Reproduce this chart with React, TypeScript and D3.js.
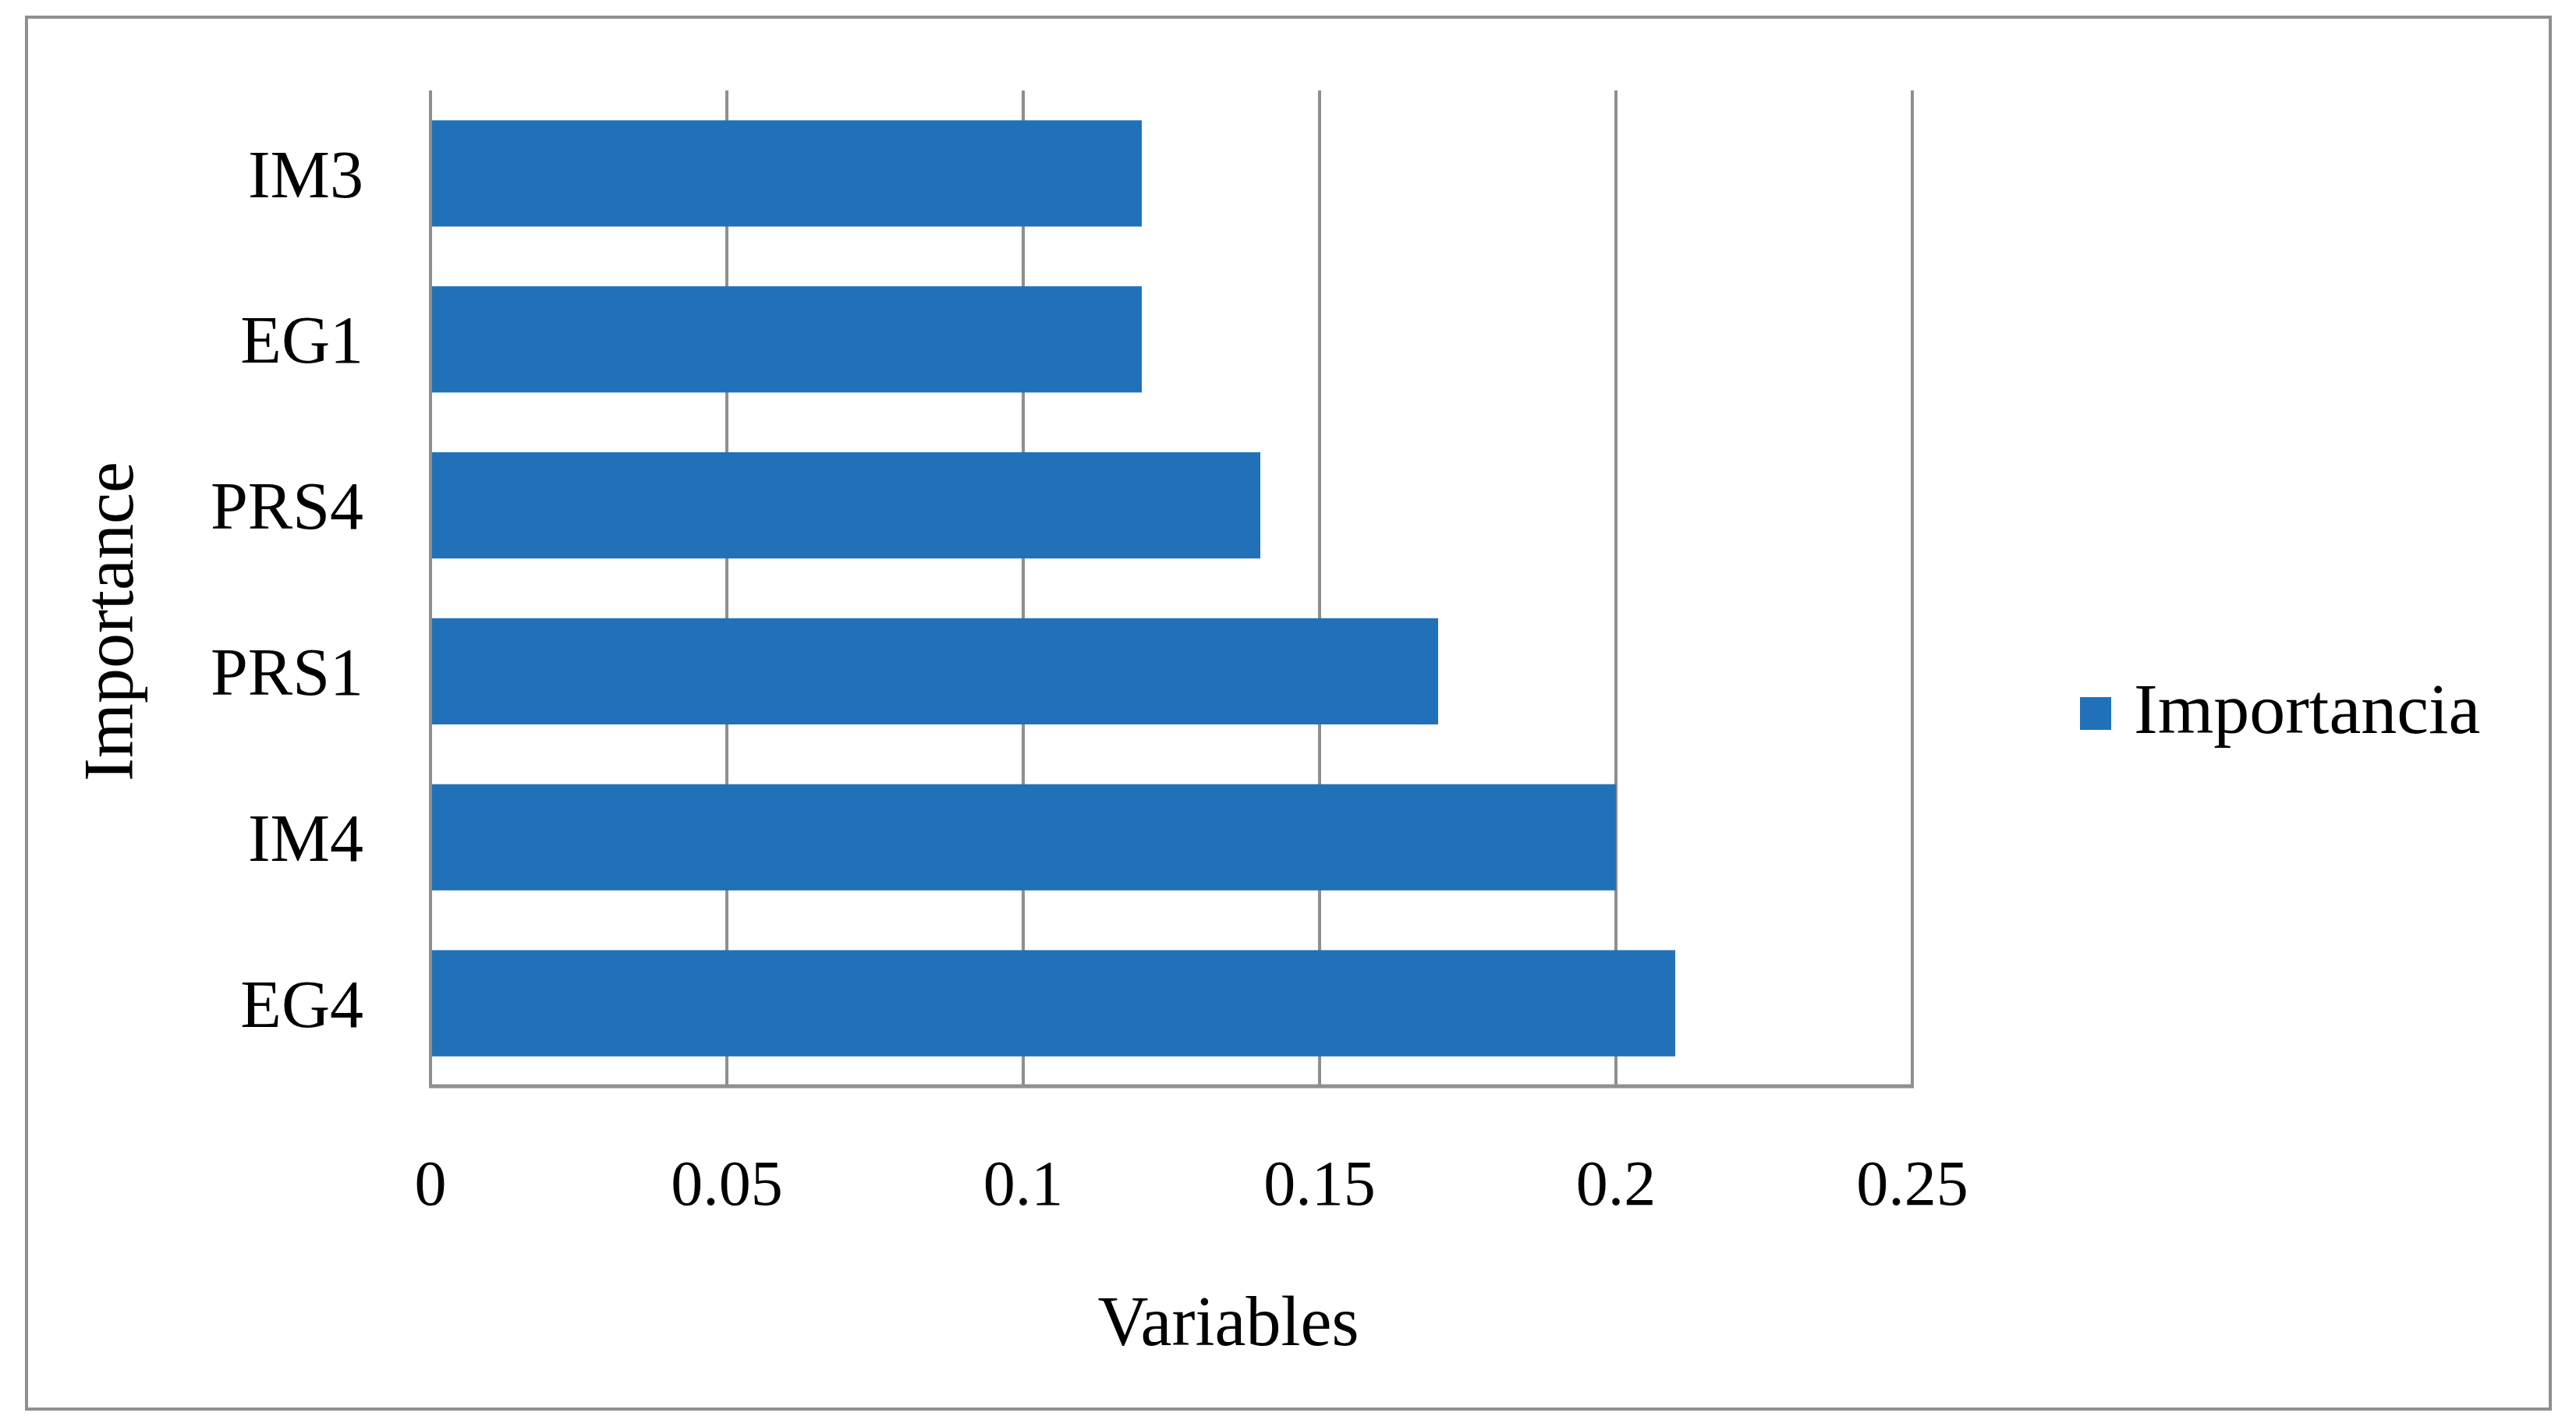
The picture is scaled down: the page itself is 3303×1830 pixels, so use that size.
// App.tsx
import React, { useRef, useEffect } from 'react';
import * as d3 from 'd3';

const categories = ['IM3', 'EG1', 'PRS4', 'PRS1', 'IM4', 'EG4'];
const importancia = [0.12, 0.12, 0.14, 0.17, 0.2, 0.21];
const xTicks = [0, 0.05, 0.1, 0.15, 0.2, 0.25];
const xTickLabels = ['0', '0.05', '0.1', '0.15', '0.2', '0.25'];
const seriesName = 'Importancia';

const WIDTH = 3303;
const HEIGHT = 1830;
const BAR_COLOR = '#2171B8';
const GRID_COLOR = '#8f8f8f';
const FONT = '"Liberation Serif", "DejaVu Serif", serif';

const App: React.FC = () => {
    const svgRef = useRef<SVGSVGElement | null>(null);

    useEffect(() => {
        if (!svgRef.current) return;
        const svg = d3.select(svgRef.current);
        svg.selectAll('*').remove();

        // outer frame
        svg.append('rect')
            .attr('x', 34).attr('y', 22)
            .attr('width', 3236).attr('height', 1785)
            .attr('fill', '#fff')
            .attr('stroke', GRID_COLOR)
            .attr('stroke-width', 4);

        const plot = { left: 552, right: 2452, top: 116, bottom: 1393 };

        const xScale = d3.scaleLinear()
            .domain([0, 0.25])
            .range([plot.left, plot.right]);

        const yScale = d3.scaleBand()
            .domain(categories)
            .range([plot.top, plot.bottom])
            .paddingInner(0.36)
            .paddingOuter(0.18);

        // vertical gridlines
        svg.append('g')
            .selectAll('line')
            .data(xTicks)
            .enter().append('line')
            .attr('x1', d => xScale(d))
            .attr('x2', d => xScale(d))
            .attr('y1', plot.top)
            .attr('y2', plot.bottom)
            .attr('stroke', GRID_COLOR)
            .attr('stroke-width', 4);

        // bottom axis line
        svg.append('line')
            .attr('x1', plot.left - 2).attr('x2', plot.right + 2)
            .attr('y1', plot.bottom).attr('y2', plot.bottom)
            .attr('stroke', GRID_COLOR)
            .attr('stroke-width', 5);

        // bars
        svg.append('g')
            .selectAll('rect')
            .data(categories)
            .enter().append('rect')
            .attr('x', xScale(0) + 2)
            .attr('y', d => yScale(d)!)
            .attr('width', (d, i) => xScale(importancia[i]) - xScale(0) - 2)
            .attr('height', yScale.bandwidth())
            .attr('fill', BAR_COLOR);

        // category labels
        svg.append('g')
            .selectAll('text')
            .data(categories)
            .enter().append('text')
            .attr('x', 466)
            .attr('y', d => yScale(d)! + yScale.bandwidth() / 2)
            .attr('dy', '0.35em')
            .attr('text-anchor', 'end')
            .attr('font-family', FONT)
            .attr('font-size', 86)
            .attr('fill', '#000')
            .text(d => d);

        // x tick labels
        svg.append('g')
            .selectAll('text')
            .data(xTicks)
            .enter().append('text')
            .attr('x', d => xScale(d))
            .attr('y', 1545)
            .attr('text-anchor', 'middle')
            .attr('font-family', FONT)
            .attr('font-size', 82)
            .attr('fill', '#000')
            .text((d, i) => xTickLabels[i]);

        // axis titles
        svg.append('text')
            .attr('x', 1575).attr('y', 1725)
            .attr('text-anchor', 'middle')
            .attr('font-family', FONT)
            .attr('font-size', 90)
            .attr('fill', '#000')
            .text('Variables');

        svg.append('text')
            .attr('transform', 'translate(170,797) rotate(-90)')
            .attr('text-anchor', 'middle')
            .attr('font-family', FONT)
            .attr('font-size', 90)
            .attr('fill', '#000')
            .text('Importance');

        // legend
        svg.append('rect')
            .attr('x', 2667).attr('y', 894)
            .attr('width', 40).attr('height', 42)
            .attr('fill', BAR_COLOR);

        svg.append('text')
            .attr('x', 2736).attr('y', 940)
            .attr('font-family', FONT)
            .attr('font-size', 92)
            .attr('fill', '#000')
            .text(seriesName);
    }, []);

    return (
        <svg
            ref={svgRef}
            width={WIDTH}
            height={HEIGHT}
            style={{ position: 'absolute', left: 0, top: 0, background: '#fff' }}
        />
    );
};

export default App;
